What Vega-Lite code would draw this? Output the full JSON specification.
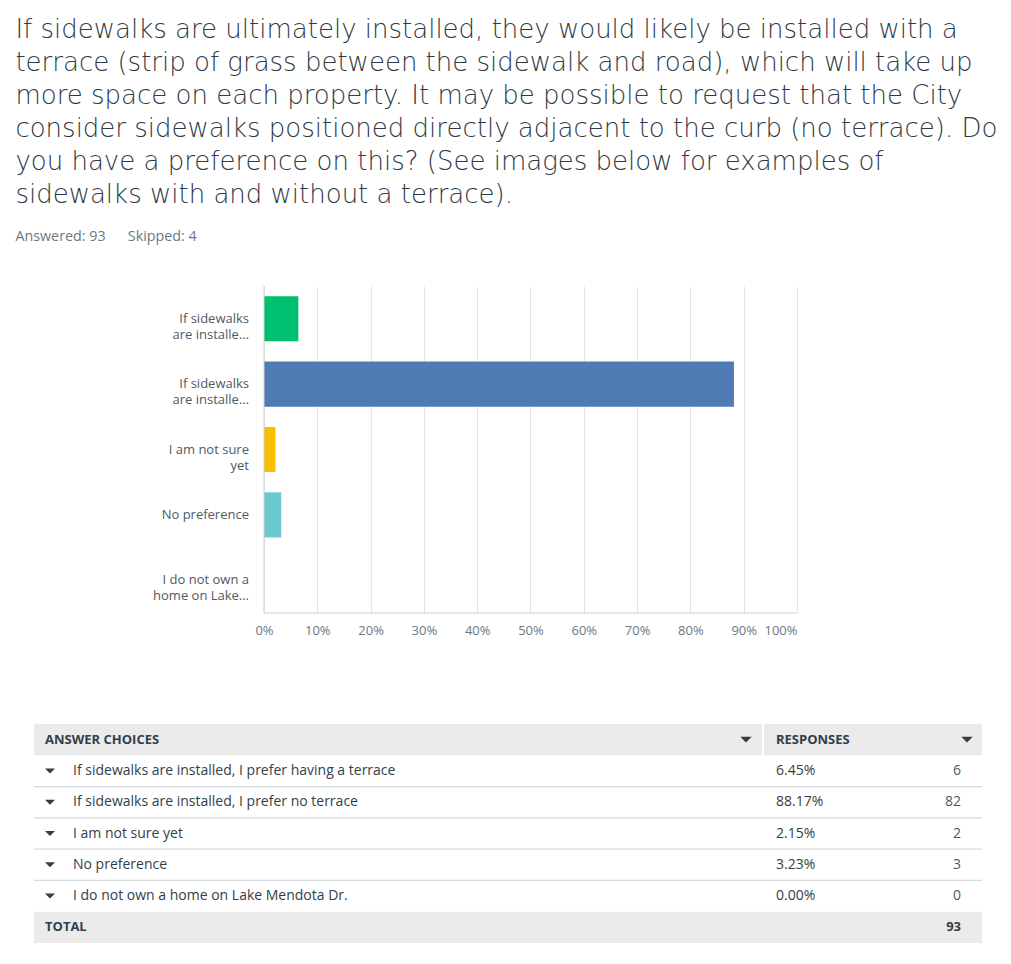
{
  "$schema": "https://vega.github.io/schema/vega-lite/v6.json",
  "padding": {"left": 15, "top": 17, "right": 30, "bottom": 20},
  "background": "white",
  "config": {"view": {"stroke": null}, "font": "Open Sans"},
  "title": {
    "text": [
      "If sidewalks are ultimately installed, they would likely be installed with a",
      "terrace (strip of grass between the sidewalk and road), which will take up",
      "more space on each property. It may be possible to request that the City",
      "consider sidewalks positioned directly adjacent to the curb (no terrace). Do",
      "you have a preference on this? (See images below for examples of",
      "sidewalks with and without a terrace)."
    ],
    "subtitle": "Answered: 93\u00a0\u00a0\u00a0\u00a0\u00a0\u00a0Skipped: 4",
    "anchor": "start",
    "dx": -18,
    "font": "DejaVu Sans",
    "fontSize": 26,
    "fontWeight": 300,
    "lineHeight": 33,
    "color": "#2f3a44",
    "subtitleFont": "Open Sans",
    "subtitleFontSize": 14.3,
    "subtitleColor": "#6b787f",
    "subtitlePadding": 22,
    "offset": 41
  },
  "datasets": {
    "answers": [
      {"order": 1, "answer": "If sidewalks are installed, I prefer having a terrace", "short": "If sidewalks|are installe…", "pct": 0.0645, "count": 6},
      {"order": 2, "answer": "If sidewalks are installed, I prefer no terrace", "short": "If sidewalks|are installe…", "pct": 0.8817, "count": 82},
      {"order": 3, "answer": "I am not sure yet", "short": "I am not sure|yet", "pct": 0.0215, "count": 2},
      {"order": 4, "answer": "No preference", "short": "No preference", "pct": 0.0323, "count": 3},
      {"order": 5, "answer": "I do not own a home on Lake Mendota Dr.", "short": "I do not own a|home on Lake…", "pct": 0.0, "count": 0}
    ]
  },
  "spacing": 87,
  "vconcat": [
    {
      "width": 763,
      "height": 327,
      "data": {"name": "answers"},
      "layer": [
        {
          "mark": {"type": "bar"},
          "encoding": {
            "y": {"field": "answer", "type": "nominal", "sort": null, "scale": {"paddingInner": 0.31, "paddingOuter": 0.155}, "axis": null},
            "x": {
              "field": "pct", "type": "quantitative",
              "scale": {"domain": [-0.4315, 1], "nice": false, "zero": false},
              "axis": {"values": [0, 0.1, 0.2, 0.3, 0.4, 0.5, 0.6, 0.7, 0.8, 0.9, 1], "format": ".0%", "grid": true, "gridColor": "#e6e6e6", "domain": false, "ticks": false, "labelPadding": 11, "labelFontSize": 13, "labelColor": "#6b787f", "labelFont": "Open Sans", "title": null}
            },
            "color": {
              "field": "answer", "type": "nominal", "sort": null,
              "scale": {
                "domain": ["If sidewalks are installed, I prefer having a terrace", "If sidewalks are installed, I prefer no terrace", "I am not sure yet", "No preference", "I do not own a home on Lake Mendota Dr."],
                "range": ["#00bf6f", "#507cb6", "#f9be00", "#6bc8cd", "#ff8b4f"]
              },
              "legend": null
            }
          }
        },
        {
          "data": {"values": [{}]},
          "mark": {"type": "rule", "color": "#d3d3d3"},
          "encoding": {"x": {"datum": 0}}
        },
        {
          "data": {"values": [{}]},
          "mark": {"type": "rule", "color": "#d3d3d3", "y": "height"},
          "encoding": {"x": {"datum": 0}, "x2": {"datum": 1}}
        },
        {
          "mark": {"type": "text", "align": "right", "baseline": "middle", "dx": -15, "lineBreak": "|", "fontSize": 13, "lineHeight": 16, "color": "#505a63", "font": "Open Sans"},
          "encoding": {
            "y": {"field": "answer", "type": "nominal", "sort": null},
            "x": {"datum": 0},
            "text": {"field": "short"}
          }
        }
      ]
    },
    {
      "width": 948,
      "height": 219,
      "layer": [
        {
          "data": {"values": [{"order": 0}, {"order": 6}]},
          "mark": {"type": "rect", "color": "#ebebeb"},
          "encoding": {
            "x": {"datum": 0, "type": "quantitative", "scale": {"domain": [0, 948], "nice": false, "zero": false}, "axis": null},
            "x2": {"datum": 948},
            "y": {"field": "order", "type": "ordinal", "scale": {"type": "band", "domain": [0, 1, 2, 3, 4, 5, 6], "paddingInner": 0, "paddingOuter": 0}, "axis": null}
          }
        },
        {
          "data": {"values": [{"order": 0}]},
          "mark": {"type": "rect", "color": "white"},
          "encoding": {
            "x": {"datum": 728, "type": "quantitative", "axis": null},
            "x2": {"datum": 730},
            "y": {"field": "order", "type": "ordinal", "axis": null}
          }
        },
        {
          "data": {"name": "answers"},
          "transform": [{"filter": "datum.order < 5"}],
          "mark": {"type": "rule", "color": "#d6d9db", "strokeWidth": 1.2},
          "encoding": {
            "x": {"datum": 0, "type": "quantitative", "axis": null},
            "x2": {"datum": 948},
            "y": {"field": "order", "type": "ordinal", "bandPosition": 1, "axis": null}
          }
        },
        {
          "data": {"name": "answers"},
          "mark": {"type": "point", "shape": "M-1,-0.5L1,-0.5L0,0.5Z", "filled": true, "size": 100, "color": "#333e48", "opacity": 1},
          "encoding": {
            "x": {"datum": 16, "type": "quantitative", "axis": null},
            "y": {"field": "order", "type": "ordinal", "axis": null}
          }
        },
        {
          "data": {"name": "answers"},
          "mark": {"type": "text", "align": "left", "baseline": "middle", "fontSize": 14, "color": "#333e48", "font": "Open Sans"},
          "encoding": {
            "x": {"datum": 39, "type": "quantitative", "axis": null},
            "y": {"field": "order", "type": "ordinal", "axis": null},
            "text": {"field": "answer"}
          }
        },
        {
          "data": {"name": "answers"},
          "mark": {"type": "text", "align": "left", "baseline": "middle", "fontSize": 14, "color": "#333e48", "font": "Open Sans"},
          "encoding": {
            "x": {"datum": 742, "type": "quantitative", "axis": null},
            "y": {"field": "order", "type": "ordinal", "axis": null},
            "text": {"field": "pct", "format": ".2%"}
          }
        },
        {
          "data": {"name": "answers"},
          "mark": {"type": "text", "align": "right", "baseline": "middle", "fontSize": 14, "color": "#4d5860", "font": "Open Sans"},
          "encoding": {
            "x": {"datum": 927, "type": "quantitative", "axis": null},
            "y": {"field": "order", "type": "ordinal", "axis": null},
            "text": {"field": "count"}
          }
        },
        {
          "data": {"values": [{"order": 0, "h": "ANSWER CHOICES"}, {"order": 6, "h": "TOTAL"}]},
          "mark": {"type": "text", "align": "left", "baseline": "middle", "fontSize": 13, "fontWeight": "bold", "color": "#333e48", "font": "Open Sans"},
          "encoding": {
            "x": {"datum": 11, "type": "quantitative", "axis": null},
            "y": {"field": "order", "type": "ordinal", "axis": null},
            "text": {"field": "h"}
          }
        },
        {
          "data": {"values": [{"order": 0, "h": "RESPONSES"}]},
          "mark": {"type": "text", "align": "left", "baseline": "middle", "fontSize": 13, "fontWeight": "bold", "color": "#333e48", "font": "Open Sans"},
          "encoding": {
            "x": {"datum": 742, "type": "quantitative", "axis": null},
            "y": {"field": "order", "type": "ordinal", "axis": null},
            "text": {"field": "h"}
          }
        },
        {
          "data": {"values": [{"order": 0}]},
          "mark": {"type": "point", "shape": "M-1,-0.5L1,-0.5L0,0.5Z", "filled": true, "size": 130, "color": "#333e48", "opacity": 1},
          "encoding": {
            "x": {"datum": 712, "type": "quantitative", "axis": null},
            "y": {"field": "order", "type": "ordinal", "axis": null}
          }
        },
        {
          "data": {"values": [{"order": 0}]},
          "mark": {"type": "point", "shape": "M-1,-0.5L1,-0.5L0,0.5Z", "filled": true, "size": 130, "color": "#333e48", "opacity": 1},
          "encoding": {
            "x": {"datum": 933, "type": "quantitative", "axis": null},
            "y": {"field": "order", "type": "ordinal", "axis": null}
          }
        },
        {
          "data": {"name": "answers"},
          "transform": [{"aggregate": [{"op": "sum", "field": "count", "as": "total"}]}],
          "mark": {"type": "text", "align": "right", "baseline": "middle", "fontSize": 13, "fontWeight": "bold", "color": "#333e48", "font": "Open Sans"},
          "encoding": {
            "x": {"datum": 927, "type": "quantitative", "axis": null},
            "y": {"datum": 6, "type": "ordinal", "bandPosition": 0.5, "axis": null},
            "text": {"field": "total"}
          }
        }
      ]
    }
  ]
}
